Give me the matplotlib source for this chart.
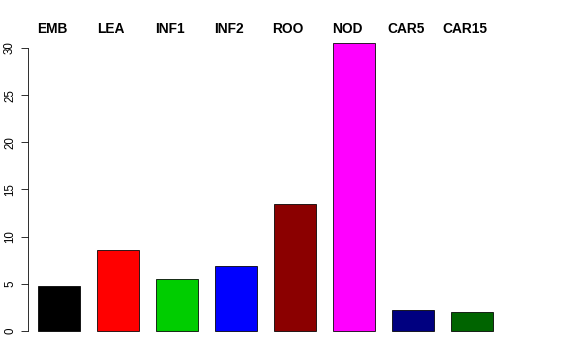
import matplotlib
matplotlib.use("Agg")
import matplotlib.pyplot as plt
import numpy as np

categories = ["EMB", "LEA", "INF1", "INF2", "ROO", "NOD", "CAR5", "CAR15"]
values = [4.77, 8.59, 5.51, 6.89, 13.46, 30.53, 2.23, 2.01]
colors = ["#000000", "#FF0000", "#00CD00", "#0000FF", "#8B0000", "#FF00FF", "#000080", "#006400"]
yticks = [0, 5, 10, 15, 20, 25, 30]

plt.rcParams['font.family'] = ['Liberation Sans', 'DejaVu Sans']

W, H = 576, 360
fig = plt.figure(figsize=(W / 72, H / 72), dpi=72)
# pixel geometry
left_px, right_px, top_px, bot_px = 28, 560, 20, 342
ax = fig.add_axes([left_px / W, (H - bot_px) / H, (right_px - left_px) / W, (bot_px - top_px) / H])

ppu = 283 / 30.0  # pixels per y unit
y0_px = 331
ax.set_ylim(-(bot_px - y0_px) / ppu, (y0_px - top_px) / ppu)
ax.set_xlim((left_px - 59) / 59, (right_px - 59) / 59)

x = np.arange(len(categories))
ax.bar(x, values, width=42 / 59, color=colors, edgecolor="black", linewidth=0.8)

for i, c in enumerate(categories):
    ax.text(i - 7 / 59, (y0_px - 29.5) / ppu, c, ha="center", va="center",
            fontsize=13.8, fontweight="bold", clip_on=False)

for s in ["top", "right", "bottom"]:
    ax.spines[s].set_visible(False)
ax.spines["left"].set_bounds(0, 30)
ax.spines["left"].set_linewidth(0.8)
ax.set_yticks(yticks)
ax.set_yticklabels([str(t) for t in yticks], rotation=90, va="center", fontsize=11.5)
ax.tick_params(axis="y", length=7, width=0.8, pad=5)
ax.set_xticks([])

fig.savefig("out.png", dpi=72)
